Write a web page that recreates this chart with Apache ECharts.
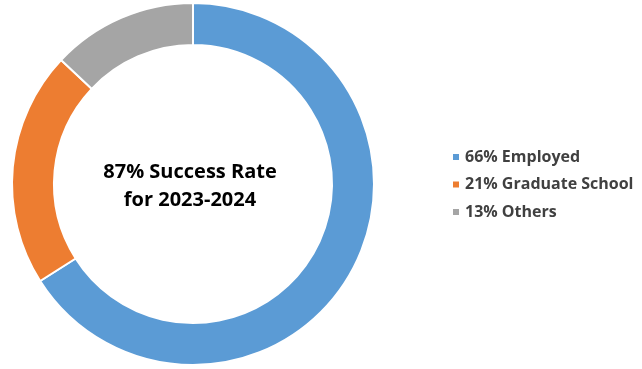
<!DOCTYPE html>
<html><head><meta charset="utf-8">
<script src="https://cdn.jsdelivr.net/npm/echarts@6/dist/echarts.min.js"></script>
<style>html,body{margin:0;padding:0;background:#fff}#c{width:642px;height:369px}</style>
</head><body><div id="c"></div>
<script>
const categories = ['66% Employed', '21% Graduate School', '13% Others'];
const values = [66, 21, 13];
const colors = ['#5B9BD5', '#ED7D31', '#A5A5A5'];
const centerLines = ['87% Success Rate', 'for 2023-2024'];

const chart = echarts.init(document.getElementById('c'));
chart.setOption({
  animation: false,
  color: colors,
  title: {
    text: centerLines.join('\n'),
    left: 185, top: 181, textAlign: 'center', textVerticalAlign: 'middle',
    textStyle: { fontFamily: 'Open Sans', fontWeight: 'bold', fontSize: 20, color: '#000', lineHeight: 28 }
  },
  legend: {
    orient: 'vertical', left: 446, top: 142.5,
    itemWidth: 8, itemHeight: 8, itemGap: 8.5, icon: 'rect',
    textStyle: { fontFamily: 'Open Sans', fontWeight: 'bold', fontSize: 16, color: '#404040', lineHeight: 19 },
    data: categories
  },
  series: [{
    type: 'pie', center: [193, 184], radius: [139, 181],
    startAngle: 90, clockwise: true, label: { show: false }, labelLine: { show: false },
    itemStyle: { borderColor: '#fff', borderWidth: 2 },
    data: categories.map((n, i) => ({ name: n, value: values[i] }))
  }]
});
</script></body></html>
